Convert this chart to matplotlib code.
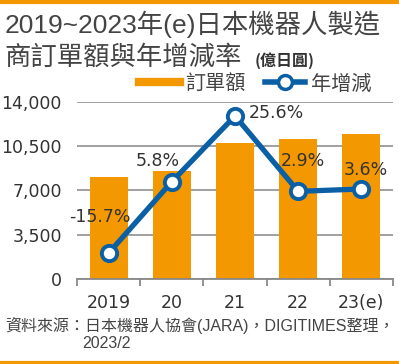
import numpy as np
import matplotlib.pyplot as plt
from matplotlib.lines import Line2D

plt.rcParams['font.family'] = ['Noto Sans CJK TC', 'DejaVu Sans']

years = ['2019', '20', '21', '22', '23(e)']
orders = [8100, 8570, 10760, 11070, 11480]
growth = [-15.7, 5.8, 25.6, 2.9, 3.6]
growth_labels = ['-15.7%', '5.8%', '25.6%', '2.9%', '3.6%']

orange = '#F39800'
blue = '#0B5FA5'
grey_txt = '#333333'
num_font = ['DejaVu Sans']

fig = plt.figure(figsize=(3.99, 3.64), dpi=100)
ax = fig.add_axes([0.193, 0.2335, 0.792, 0.4863])

x = np.arange(len(years))
ax.bar(x, orders, width=0.6, color=orange, zorder=2)
ax.set_ylim(0, 14000)
ax.set_xlim(-0.5, 4.5)
ax.set_yticks([0, 3500, 7000, 10500, 14000])
ax.set_yticklabels(['0', '3,500', '7,000', '10,500', '14,000'], fontsize=12.5,
                   color=grey_txt, family=num_font)
ax.yaxis.grid(True, color='#999999', lw=1.3, zorder=0)
ax.tick_params(axis='y', length=0, pad=11)
for s in ['left', 'right', 'top']:
    ax.spines[s].set_visible(False)
ax.spines['bottom'].set_color('#888888')
ax.spines['bottom'].set_linewidth(1.3)
ax.set_xticks(np.arange(-0.5, 5, 1))
ax.set_xticklabels([])
ax.set_xticks(x, minor=True)
ax.set_xticklabels(years, minor=True, fontsize=12.5, color=grey_txt, family=num_font)
ax.tick_params(axis='x', which='major', length=5, width=1.3, color='#888888', direction='out')
ax.tick_params(axis='x', which='minor', length=0, pad=11)

ax2 = ax.twinx()
ax2.set_ylim(-23.5, 29.8)
ax2.axis('off')
ax2.plot(x, growth, color=blue, lw=3.8, marker='o', ms=11, mfc='white', mec=blue, mew=2.8, zorder=3)

# label offsets from each point (x in categories, y in %)
offsets = [(-0.14, 11.0), (-0.22, 6.1), (0.65, 0.8), (0.08, 9.0), (0.07, 5.7)]
for i, lab in enumerate(growth_labels):
    ax2.text(x[i] + offsets[i][0], growth[i] + offsets[i][1], lab, fontsize=12.5,
             color=grey_txt, ha='center', va='center', family=num_font)

handles = [Line2D([0], [0], color=orange, lw=6),
           Line2D([0], [0], color=blue, lw=4, marker='o', ms=10, mfc='white', mec=blue, mew=2.5)]
leg = fig.legend(handles, ['訂單額', '年增減'], loc='center right',
                 ncol=2, frameon=False, fontsize=14.5, handlelength=2.0, columnspacing=1.0,
                 handletextpad=0.25, labelcolor='#444444')
leg.set_bbox_to_anchor((0.975, 1 - 84 / 364), transform=fig.transFigure)

title_font = ['Liberation Sans', 'Noto Sans CJK TC']
fig.text(0.012, 0.934, '2019~2023年(e)日本機器人製造', fontsize=19, color='#444444',
         va='center', family=title_font)
fig.text(0.012, 0.841, '商訂單額與年增減率', fontsize=19, color='#444444',
         va='center', family=title_font)
fig.text(0.637, 0.834, '(億日圓)', fontsize=11.5, color='#333333', va='center', fontweight='bold')

src_font = ['Liberation Sans', 'Noto Sans CJK TC']
fig.text(0.012, 0.107, '資料來源：日本機器人協會(JARA)，DIGITIMES整理，', fontsize=11.5,
         color='#444444', va='center', family=src_font)
fig.text(0.205, 0.055, '2023/2', fontsize=11.5, color='#444444', va='center', family=src_font)

fig.add_artist(Line2D([0, 1], [0.995, 0.995], color=orange, lw=3, transform=fig.transFigure))
fig.add_artist(Line2D([0, 1], [0.004, 0.004], color=orange, lw=3, transform=fig.transFigure))

fig.savefig('out.png', dpi=100)
